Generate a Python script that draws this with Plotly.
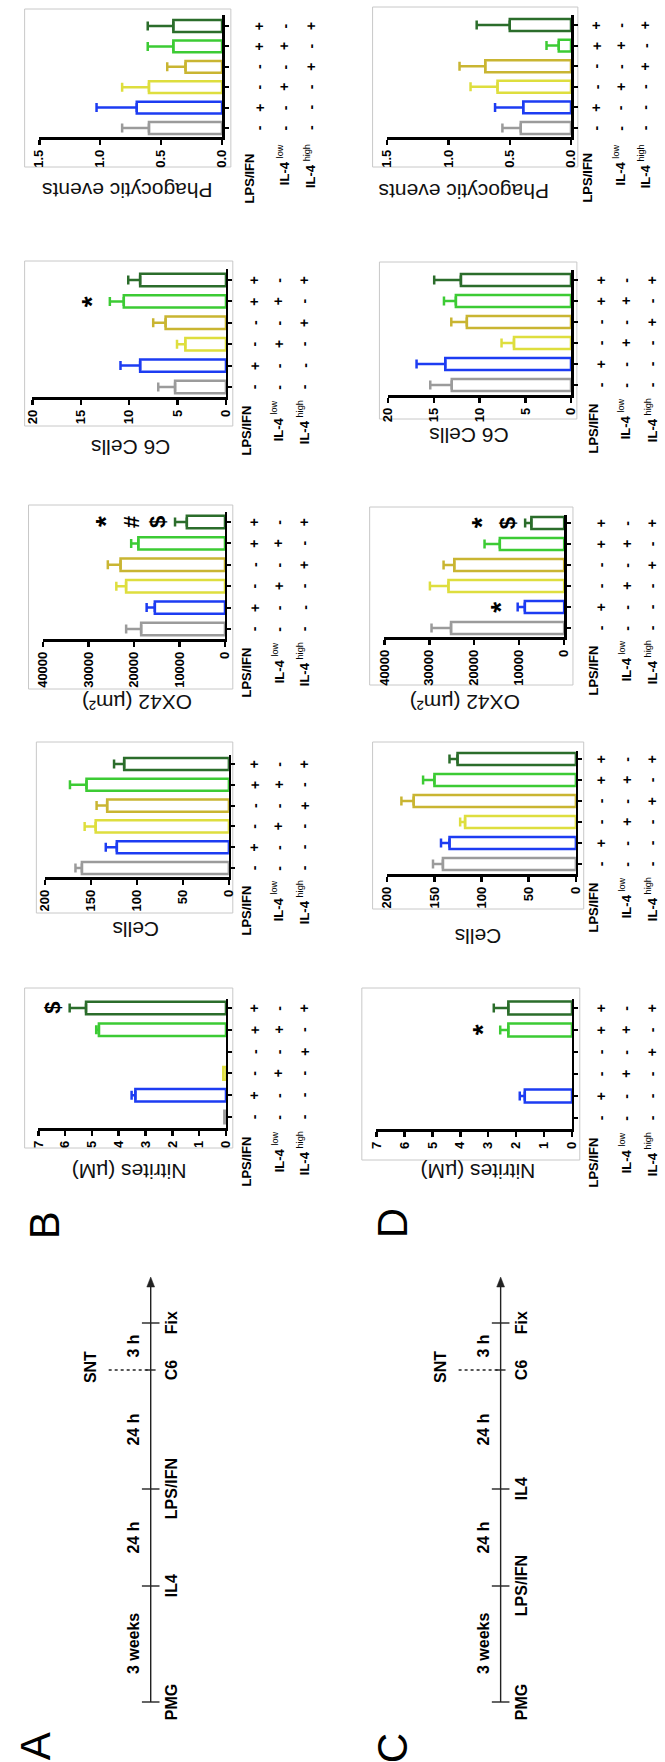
import plotly.graph_objects as go

W, H = 665, 1762

# ---------------- data ----------------
categories = ["Control", "LPS/IFN", "IL-4 low", "IL-4 high",
              "LPS/IFN + IL-4 low", "LPS/IFN + IL-4 high"]
bar_colors = ["#9b9b9b", "#1d3cf2", "#dede3e", "#c9b532", "#3ccb34", "#2b6d2b"]

lps_signs = ["-", "+", "-", "-", "+", "+"]
il4_low_signs = ["-", "-", "+", "-", "+", "-"]
il4_high_signs = ["-", "-", "-", "+", "-", "+"]

# Panel B (IL-4 then LPS/IFN)
b_nitrites = [0.06, 3.38, 0.10, 0.0, 4.74, 5.22]
b_nitrites_err = [0, 0.14, 0, 0, 0.10, 0.61]
b_cells = [160, 122, 145, 132.5, 155, 114]
b_cells_err = [7, 12, 12, 11.5, 18, 11]
b_ox42 = [18450, 15440, 21760, 22980, 19070, 8400]
b_ox42_err = [3300, 1800, 2150, 2800, 1570, 2590]
b_c6 = [5.26, 8.87, 4.2, 6.24, 10.56, 8.87]
b_c6_err = [1.74, 2.03, 0.86, 1.28, 1.44, 1.23]
b_phag = [0.60, 0.70, 0.60, 0.30, 0.40, 0.40]
b_phag_err = [0.22, 0.33, 0.22, 0.15, 0.21, 0.21]

# Panel D (LPS/IFN then IL-4)
d_nitrites = [0.0, 1.69, 0.0, 0.0, 2.28, 2.28]
d_nitrites_err = [0, 0.18, 0, 0, 0.29, 0.52]
d_cells = [141, 134, 117.5, 172, 150, 125.5]
d_cells_err = [10.5, 9, 5.2, 13, 12, 8.5]
d_ox42 = [25160, 8750, 25740, 24440, 14315, 7300]
d_ox42_err = [4340, 1590, 4120, 2380, 3395, 1380]
d_c6 = [13.05, 13.76, 6.24, 11.4, 12.6, 12.05]
d_c6_err = [2.35, 3.14, 1.36, 1.7, 1.3, 2.92]
d_phag = [0.41, 0.39, 0.60, 0.70, 0.10, 0.50]
d_phag_err = [0.15, 0.23, 0.22, 0.21, 0.10, 0.27]

# significance marks: {category index: [symbols from bar outward]}
b_nitrites_marks = {5: ["$"]}
b_c6_marks = {4: ["*"]}
b_ox42_marks = {5: ["$", "#", "*"]}
d_nitrites_marks = {4: ["*"]}
d_ox42_marks = {1: ["*"], 5: ["$", "*"]}

measure_titles = {"nit": "Nitrites (µM)", "cells": "Cells", "ox42": "OX42 (µm²)",
                  "c6": "C6 Cells", "phag": "Phagocytic events"}
measure_max = {"nit": 7, "cells": 200, "ox42": 40000, "c6": 20, "phag": 1.5}
measure_dtick = {"nit": 1, "cells": 50, "ox42": 10000, "c6": 5, "phag": 0.5}
measure_fmt = {"nit": "d", "cells": "d", "ox42": "d", "c6": "d", "phag": ".1f"}

timeline_a_events = ["PMG", "IL4", "LPS/IFN", "C6", "Fix"]
timeline_c_events = ["PMG", "LPS/IFN", "IL4", "C6", "Fix"]
timeline_event_pos = [0, 116, 213, 332, 379]
timeline_end_pos = 425
timeline_intervals = ["3 weeks", "24 h", "24 h", "3 h"]
timeline_marker = ("SNT", 3)  # label, event index

# ---------------- geometry (pixels) ----------------
charts = [
    ("phag", b_phag, b_phag_err, {}, dict(frame=(17, 9, 228, 167), x_max=32, x_zero=219, y_axis=137, y_top=15, gray=128, dg=26, title=(122, 190), signs=(257, 283, 310), lab=(14, 5))),
    ("c6", b_c6, b_c6_err, b_c6_marks, dict(frame=(17, 261, 230, 426), x_max=25, x_zero=223, y_axis=397, y_top=269, gray=387, dg=280, title=(126, 447), signs=(252, 277, 303), lab=(7, 1))),
    ("ox42", b_ox42, b_ox42_err, b_ox42_marks, dict(frame=(21, 505, 230, 689), x_max=36, x_zero=222, y_axis=639, y_top=512, gray=629, dg=522, title=(132, 703), signs=(252, 277, 303), lab=(7, 1))),
    ("cells", b_cells, b_cells_err, {}, dict(frame=(29, 742, 230, 913), x_max=38, x_zero=226, y_axis=877, y_top=755, gray=868, dg=764, title=(131, 930), signs=(252, 277, 303), lab=(7, 1))),
    ("nit", b_nitrites, b_nitrites_err, b_nitrites_marks, dict(frame=(17, 988, 230, 1148), x_max=31, x_zero=223, y_axis=1128, y_top=999, gray=1117, dg=1008, title=(124, 1172), signs=(252, 277, 303), lab=(7, 1))),
    ("phag", d_phag, d_phag_err, {}, dict(frame=(373, 7, 583, 167), x_max=388, x_zero=576, y_axis=137, y_top=15, gray=128, dg=25, title=(466, 191), signs=(602, 627, 652), lab=(14, 5))),
    ("c6", d_c6, d_c6_err, {}, dict(frame=(380, 262, 582, 419), x_max=389, x_zero=576, y_axis=395, y_top=270, gray=385, dg=280, title=(472, 436), signs=(607, 632, 659), lab=(7, 1))),
    ("ox42", d_ox42, d_ox42_err, d_ox42_marks, dict(frame=(370, 507, 578, 685), x_max=385, x_zero=569, y_axis=637, y_top=515, gray=628, dg=523, title=(467, 703), signs=(607, 633, 659), lab=(7, 1))),
    ("cells", d_cells, d_cells_err, {}, dict(frame=(373, 742, 589, 909), x_max=388, x_zero=581, y_axis=874, y_top=751, gray=864, dg=759, title=(481, 937), signs=(607, 633, 659), lab=(7, 1))),
    ("nit", d_nitrites, d_nitrites_err, d_nitrites_marks, dict(frame=(362, 988, 585, 1160), x_max=377, x_zero=577, y_axis=1129, y_top=999, gray=1118, dg=1008, title=(481, 1172), signs=(607, 632, 659), lab=(7, 1))),
]

FONT = "Liberation Sans, Arial, sans-serif"


def px(xp):
    return xp / W


def py(yp):
    return 1 - yp / H


fig = go.Figure()
annotations = []
shapes = []
axes = {}

sign_rows = [lps_signs, il4_low_signs, il4_high_signs]
row_label_text = ["<b>LPS/IFN</b>", "<b>IL-4</b> <sup>low</sup>", "<b>IL-4</b> <sup>high</sup>"]

for i, (meas, vals, errs, marks, g) in enumerate(charts, start=1):
    xa = "x" if i == 1 else f"x{i}"
    ya = "y" if i == 1 else f"y{i}"
    xkey = "xaxis" if i == 1 else f"xaxis{i}"
    ykey = "yaxis" if i == 1 else f"yaxis{i}"
    spacing = (g["gray"] - g["dg"]) / 5.0
    y_lo = -(g["y_axis"] - g["gray"]) / spacing
    y_hi = 5 + (g["dg"] - g["y_top"]) / spacing
    axes[xkey] = dict(
        domain=[px(g["x_max"]), px(g["x_zero"])], range=[measure_max[meas], 0],
        anchor=ya, showline=True, linecolor="black", linewidth=2.5,
        ticks="outside", ticklen=5, tickwidth=2.5, tickcolor="black",
        tickmode="linear", tick0=0, dtick=measure_dtick[meas],
        tickformat=measure_fmt[meas], tickangle=-90,
        tickfont=dict(family=FONT, size=13, color="black", weight="bold"),
        showgrid=False, zeroline=False, fixedrange=True)
    axes[ykey] = dict(
        domain=[py(g["y_axis"]), py(g["y_top"])], range=[y_lo, y_hi],
        anchor=xa, side="right", showline=True, linecolor="black", linewidth=2.5,
        ticks="outside", ticklen=4, tickwidth=2, tickcolor="black",
        tickmode="array", tickvals=list(range(len(categories))),
        showticklabels=False, showgrid=False, zeroline=False, fixedrange=True)

    for k, cat in enumerate(categories):
        if vals[k] <= 0:
            continue
        fig.add_trace(go.Bar(
            x=[vals[k]], y=[k], orientation="h", xaxis=xa, yaxis=ya, width=0.58,
            name=cat, showlegend=False, hoverinfo="skip",
            marker=dict(color="white", line=dict(color=bar_colors[k], width=2.5)),
            error_x=dict(type="data", array=[errs[k]], arrayminus=[0], symmetric=False,
                         color=bar_colors[k], thickness=2.5, width=4.5,
                         visible=errs[k] > 0)))

    # frame
    fx0, fy0, fx1, fy1 = g["frame"]
    shapes.append(dict(type="rect", xref="paper", yref="paper",
                       x0=px(fx0), x1=px(fx1), y0=py(fy1), y1=py(fy0),
                       line=dict(color="#c8c8c8", width=1), layer="below"))
    # title
    annotations.append(dict(text=measure_titles[meas], xref="paper", yref="paper",
                            x=px(g["title"][0]), y=py(g["title"][1]),
                            xanchor="center", yanchor="middle", textangle=180,
                            showarrow=False, font=dict(family=FONT, size=21, color="#111")))
    # sign table
    for r, row in enumerate(sign_rows):
        for k, s in enumerate(row):
            annotations.append(dict(text=f"<b>{s}</b>", xref="paper", yref=ya,
                                    x=px(g["signs"][r]), y=k, xanchor="center",
                                    yanchor="middle", textangle=-90, showarrow=False,
                                    font=dict(family=FONT, size=14, color="black")))
        dx = -9 if r == 0 else -1
        off = g["lab"][0] if r == 0 else g["lab"][1]
        annotations.append(dict(text=row_label_text[r], xref="paper", yref="paper",
                                x=px(g["signs"][r] + dx), y=py(g["y_axis"] + off),
                                xanchor="center", yanchor="top", textangle=-90,
                                showarrow=False, font=dict(family=FONT, size=13, color="black")))
    # significance marks
    for k, syms in marks.items():
        for j, s in enumerate(syms):
            annotations.append(dict(text=f"<b>{s}</b>", xref=xa, yref=ya,
                                    x=vals[k] + errs[k], y=k, xshift=-(18 + 26 * j),
                                    xanchor="center", yanchor="middle", textangle=-90,
                                    showarrow=False,
                                    font=dict(family=FONT, size=28 if s == "*" else 22,
                                              color="black")))

# ---------------- timelines ----------------
def draw_timeline(x_line, events):
    base = 1702
    ys = [base - p for p in timeline_event_pos]
    y_end = base - timeline_end_pos
    shapes.append(dict(type="line", xref="paper", yref="paper",
                       x0=px(x_line), x1=px(x_line), y0=py(base), y1=py(y_end + 6),
                       line=dict(color="#222", width=1.4)))
    shapes.append(dict(type="path", xref="paper", yref="paper",
                       path=f"M {px(x_line)},{py(y_end)} L {px(x_line - 4)},{py(y_end + 10)} "
                            f"L {px(x_line + 4)},{py(y_end + 10)} Z",
                       fillcolor="#222", line=dict(color="#222", width=0.5)))
    for idx, (ev, yv) in enumerate(zip(events, ys)):
        half = 5 if idx == timeline_marker[1] else 9
        shapes.append(dict(type="line", xref="paper", yref="paper",
                           x0=px(x_line - half), x1=px(x_line + half), y0=py(yv), y1=py(yv),
                           line=dict(color="#222", width=1.4)))
        annotations.append(dict(text=f"<b>{ev}</b>", xref="paper", yref="paper",
                                x=px(x_line + 21), y=py(yv), xanchor="center", yanchor="middle",
                                textangle=-90, showarrow=False,
                                font=dict(family=FONT, size=16, color="black")))
    for idx, lab in enumerate(timeline_intervals):
        ym = (ys[idx] + ys[idx + 1]) / 2
        annotations.append(dict(text=f"<b>{lab}</b>", xref="paper", yref="paper",
                                x=px(x_line - 18), y=py(ym), xanchor="center", yanchor="middle",
                                textangle=-90, showarrow=False,
                                font=dict(family=FONT, size=16, color="black")))
    ysnt = ys[timeline_marker[1]]
    shapes.append(dict(type="line", xref="paper", yref="paper",
                       x0=px(x_line - 43), x1=px(x_line - 2), y0=py(ysnt), y1=py(ysnt),
                       line=dict(color="#222", width=1.6, dash="dot")))
    annotations.append(dict(text=f"<b>{timeline_marker[0]}</b>", xref="paper", yref="paper",
                            x=px(x_line - 62), y=py(ysnt - 3), xanchor="center", yanchor="middle",
                            textangle=-90, showarrow=False,
                            font=dict(family=FONT, size=16, color="black")))


draw_timeline(146, timeline_a_events)
draw_timeline(504, timeline_c_events)

for letter, (lx, ly) in {"A": (28, 1746), "B": (37, 1225), "C": (393, 1748), "D": (393, 1223)}.items():
    annotations.append(dict(text=letter, xref="paper", yref="paper", x=px(lx), y=py(ly),
                            xanchor="center", yanchor="middle", textangle=-90, showarrow=False,
                            font=dict(family=FONT, size=42, color="black")))

fig.update_layout(
    width=W, height=H, margin=dict(l=0, r=0, t=0, b=0),
    paper_bgcolor="white", plot_bgcolor="rgba(0,0,0,0)",
    barmode="overlay", hovermode=False, showlegend=False,
    annotations=annotations, shapes=shapes, **axes)

fig.write_html("out.html", config={"displayModeBar": False, "staticPlot": True},
               post_script="document.body.style.margin='0';document.body.style.padding='0';"
                           "document.documentElement.style.overflow='hidden';")
